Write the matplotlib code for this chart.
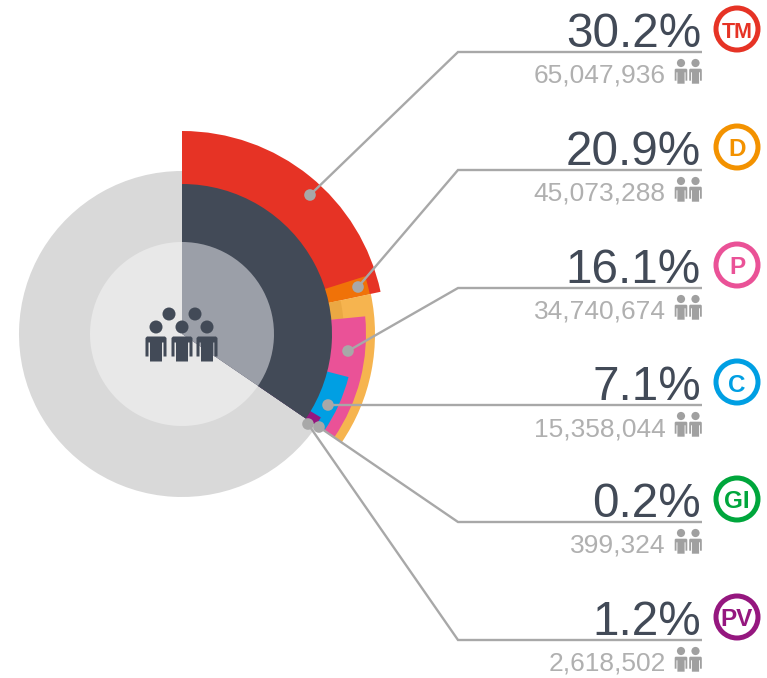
import matplotlib
matplotlib.use("Agg")
import numpy as np
import matplotlib.pyplot as plt
from matplotlib.patches import Circle, Polygon

plt.rcParams['font.family'] = ['Liberation Sans', 'DejaVu Sans']

# rows on the right
pcts = ["30.2%", "20.9%", "16.1%", "7.1%", "0.2%", "1.2%"]
counts = ["65,047,936", "45,073,288", "34,740,674", "15,358,044", "399,324", "2,618,502"]
badges = ["TM", "D", "P", "C", "GI", "PV"]
badge_colors = ["#e63325", "#f39200", "#ea5297", "#009fe3", "#00a63c", "#95177f"]

# radial segments: start/end angle (deg clockwise from north) and radius
seg_names = ["TM", "D", "D_rest", "D_inner", "P", "C", "GI", "PV"]
seg_start = [0, 72.5, 78, 78, 84.5, 104.5, 123.9, 121]
seg_end = [78, 78, 124.3, 84.5, 124.3, 124.3, 124.3, 124.3]
seg_radius = [203, 192, 193, 162, 184, 172, 165, 162]
seg_colors = ["#e63325", "#f07208", "#f6b44f", "#eba843", "#ea5297", "#009fe3", "#00a63c", "#95177f"]

total_angle = 124.3
r_gray, r_dark, r_inner = 163, 150, 92

W, H = 767, 678
cx, cy = 182, 334
rmax = 210

fig = plt.figure(figsize=(W / 100, H / 100), dpi=100)

pol = fig.add_axes([(cx - rmax) / W, (H - cy - rmax) / H, 2 * rmax / W, 2 * rmax / H], projection='polar')
pol.set_theta_zero_location('N')
pol.set_theta_direction(-1)
pol.set_ylim(0, rmax)
pol.axis('off')


def sector(a0, a1, r, color):
    pol.bar(np.radians(a0), r, width=np.radians(a1 - a0), bottom=0, align='edge', color=color, linewidth=0)


sector(total_angle, 360, r_gray, "#d9d9d9")
for a0, a1, r, c in zip(seg_start, seg_end, seg_radius, seg_colors):
    sector(a0, a1, r, c)
sector(0, total_angle, r_dark, "#424a57")
sector(total_angle, 360, r_inner, "#e8e8e8")
sector(0, total_angle, r_inner, "#9b9fa8")

# overlay in pixel coords for leaders, text and icons
ax = fig.add_axes([0, 0, 1, 1])
ax.set_xlim(0, W)
ax.set_ylim(H, 0)
ax.axis('off')
ax.patch.set_alpha(0)

line_y = [52, 170, 288, 405, 522, 640]
dots = [(310, 195), (358, 287), (348, 351), (328, 405), (319, 427), (308, 424)]
GRAY = "#a8a8a8"
DARK = "#424a57"


def person(x, head_y, s, color, hs=1.0):
    ax.add_patch(Circle((x, head_y), 6.5 * s * hs, fc=color, ec='none'))
    t = head_y + 9.5 * s
    pts = [(-9, 0), (9, 0), (10.5, 1.5), (10.5, 20), (7.5, 20), (7.5, 6), (6, 6), (6, 25),
           (-6, 25), (-6, 6), (-7.5, 6), (-7.5, 20), (-10.5, 20), (-10.5, 1.5)]
    ax.add_patch(Polygon([(x + px * s, t + py * s) for px, py in pts], closed=True, fc=color, ec='none'))


for i in range(6):
    y = line_y[i]
    dx, dy = dots[i]
    if dy == y:
        ax.plot([dx, 702], [y, y], color=GRAY, lw=1.7, solid_capstyle='butt')
    else:
        ax.plot([dx, 458, 702], [dy, y, y], color=GRAY, lw=1.7, solid_joinstyle='miter', solid_capstyle='butt')
    ax.add_patch(Circle((dx, dy), 5.8, fc=GRAY, ec='none', zorder=4))
    ax.text(701, y - 5, pcts[i], ha='right', va='baseline', fontsize=34.3, color=DARK)
    ax.text(665.5, y + 31, counts[i], ha='right', va='baseline', fontsize=19, color="#b0b0b0")
    person(681, y + 11, 0.6, "#a0a0a0", 1.05)
    person(695.5, y + 11, 0.6, "#a0a0a0", 1.05)
    by = y - 23
    ax.add_patch(Circle((737, by), 21, fc='white', ec=badge_colors[i], lw=3.6))
    ax.text(737, by + 0.5, badges[i], ha='center', va='center_baseline', fontsize=15.5 if badges[i] == "TM" else 17.5,
            fontweight='bold', color=badge_colors[i])

# centre icon
for x in [169, 195]:
    ax.add_patch(Circle((x, 314), 6.5, fc=DARK, ec='none'))
for x in [156, 182, 207]:
    person(x, 327, 1, DARK)

fig.savefig("out.png", dpi=100)
plt.close()
